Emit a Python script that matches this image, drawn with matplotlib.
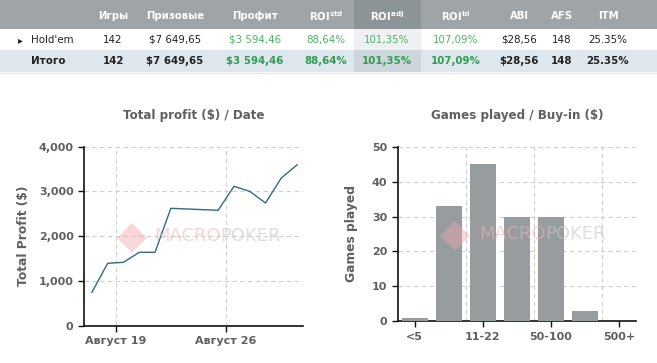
import matplotlib
matplotlib.use("Agg")
import matplotlib.pyplot as plt
import matplotlib.dates as mdates
from matplotlib.patches import Rectangle, Polygon
import datetime as dt

plt.rcParams['font.family'] = ['DejaVu Sans']
plt.rcParams['mathtext.fontset'] = 'custom'
plt.rcParams['mathtext.rm'] = 'DejaVu Sans'
plt.rcParams['mathtext.bf'] = 'DejaVu Sans:bold'

# ---------------- data ----------------
table_headers = ["Игры", "Призовые", "Профит", r"$\mathbf{ROI^{std}}$", r"$\mathbf{ROI^{adj}}$",
                 r"$\mathbf{ROI^{bi}}$", "ABI", "AFS", "ITM"]
row_labels = ["Hold'em", "Итого"]
row_holdem = ["142", "$7 649,65", "$3 594,46", "88,64%", "101,35%", "107,09%", "$28,56", "148", "25.35%"]
row_total = ["142", "$7 649,65", "$3 594,46", "88,64%", "101,35%", "107,09%", "$28,56", "148", "25.35%"]
green_cols = [2, 3, 4, 5]

profit_dates = [dt.datetime(2013, 8, d, 12) for d in (17, 18, 19, 20, 21, 22, 25, 26, 27, 28, 29, 30)]
profit_values = [746, 1394, 1417, 1640, 1640, 2623, 2579, 3115, 3003, 2742, 3301, 3594]
profit_ticks = [dt.datetime(2013, 8, 19), dt.datetime(2013, 8, 26)]
profit_tick_labels = ["Август 19", "Август 26"]

buyin_categories = ["<5", "5-11", "11-22", "22-50", "50-100", "100-500", "500+"]
games_played = [1, 33, 45, 30, 30, 3, 0]

# ---------------- figure ----------------
W, H = 657, 363
fig = plt.figure(figsize=(W / 100, H / 100), dpi=100)
fig.patch.set_facecolor('white')

tab = fig.add_axes([0, 0, 1, 1], zorder=0)
tab.set_xlim(0, W)
tab.set_ylim(H, 0)
tab.axis('off')

head_col = '#9ea4a7'
head_hl = '#8d9498'
row2_col = '#dfe7ee'
row1_hl = '#eef0f1'
row2_hl = '#cdd6dd'
hl_x0, hl_x1 = 354, 421

tab.add_patch(Rectangle((0, 0), W, 29, color=head_col, lw=0))
tab.add_patch(Rectangle((hl_x0, 0), hl_x1 - hl_x0, 29, color=head_hl, lw=0))
tab.add_patch(Rectangle((hl_x0, 29), hl_x1 - hl_x0, 21, color=row1_hl, lw=0))
tab.add_patch(Rectangle((0, 50), W, 22, color=row2_col, lw=0))
tab.add_patch(Rectangle((hl_x0, 50), hl_x1 - hl_x0, 22, color=row2_hl, lw=0))
tab.plot([0, W], [72.5, 72.5], color='#e4e8eb', lw=1)

col_x = [113, 175, 255, 326, 387, 456, 519, 562, 608]
for x, h in zip(col_x, table_headers):
    tab.text(x, 16, h, ha='center', va='center', color='white', fontsize=7.3, fontweight='bold')

green1 = '#4cb564'
green2 = '#2e9e50'
tab.text(20, 40, "▸", ha='center', va='center', color='#222222', fontsize=7)
tab.text(31, 40, row_labels[0], ha='left', va='center', color='#222222', fontsize=7.4)
tab.text(31, 61, row_labels[1], ha='left', va='center', color='#222222', fontsize=7.4, fontweight='bold')
for i, (x, v) in enumerate(zip(col_x, row_holdem)):
    tab.text(x, 40, v, ha='center', va='center', fontsize=7.4,
             color=green1 if i in green_cols else '#222222')
for i, (x, v) in enumerate(zip(col_x, row_total)):
    tab.text(x, 61, v, ha='center', va='center', fontsize=7.4, fontweight='bold',
             color=green2 if i in green_cols else '#222222')

label_col = '#606060'
grid_kw = dict(color='#cfcfcf', linestyle=(0, (4, 3)), linewidth=0.8)


def watermark(ax, cx, cy):
    ax.text(cx, cy, "◆", transform=ax.transAxes, ha='center', va='center',
            fontsize=28, color='#eea7ac', alpha=0.45, zorder=4)
    t = ax.text(cx + 0.10, cy, "MACRO", transform=ax.transAxes, ha='left', va='center',
                fontsize=13, color='#efb3b6', alpha=0.55, zorder=4)
    ax.annotate("POKER", xy=(1.0, 0.5), xycoords=t, ha='left', va='center',
                fontsize=13, color='#c8c8c8', alpha=0.6, zorder=4)


# ---------------- left chart ----------------
ax1 = fig.add_axes([84 / W, 1 - 325.7 / H, 219 / W, 179 / H], zorder=2)
ax1.patch.set_alpha(0)
ax1.plot(profit_dates, profit_values, color='#2e6c85', lw=1.0, zorder=3)
ax1.set_xlim(dt.datetime(2013, 8, 17, 0), dt.datetime(2013, 8, 30, 21))
ax1.set_ylim(0, 4000)
ax1.set_yticks([0, 1000, 2000, 3000, 4000])
ax1.set_yticklabels(['0', '1,000', '2,000', '3,000', '4,000'])
ax1.set_xticks(profit_ticks)
ax1.set_xticklabels(profit_tick_labels)
ax1.grid(True, **grid_kw)
for s in ['top', 'right']:
    ax1.spines[s].set_visible(False)
for s in ['left', 'bottom']:
    ax1.spines[s].set_color('#111111')
    ax1.spines[s].set_linewidth(1.2)
ax1.tick_params(axis='both', colors='#111111', labelcolor=label_col, labelsize=8, length=4, width=1)
for lab in ax1.get_xticklabels() + ax1.get_yticklabels():
    lab.set_fontweight('bold')
ax1.set_ylabel("Total Profit ($)", fontsize=8.8, fontweight='bold', color=label_col, labelpad=6)
ax1.set_title("Total profit ($) / Date", fontsize=8.6, fontweight='bold', color=label_col, pad=20)
watermark(ax1, 0.22, 0.50)

# ---------------- right chart ----------------
ax2 = fig.add_axes([397.7 / W, 1 - 321.3 / H, 238.6 / W, 174.6 / H], zorder=2)
ax2.patch.set_alpha(0)
xpos = list(range(len(buyin_categories)))
ax2.bar(xpos, games_played, width=0.76, color='#979d9f', zorder=3)
ax2.set_xlim(-0.5, len(buyin_categories) - 0.5)
ax2.set_ylim(0, 50)
ax2.set_yticks([0, 10, 20, 30, 40, 50])
ax2.set_xticks(xpos[::2])
ax2.set_xticklabels(buyin_categories[::2])
ax2.set_xticks([1.5, 3.5, 5.5], minor=True)
ax2.grid(True, axis='y', **grid_kw)
ax2.grid(True, axis='x', which='minor', **grid_kw)
ax2.tick_params(axis='x', which='minor', length=0)
for s in ['top', 'right']:
    ax2.spines[s].set_visible(False)
for s in ['left', 'bottom']:
    ax2.spines[s].set_color('#111111')
    ax2.spines[s].set_linewidth(1.2)
ax2.tick_params(axis='both', which='major', colors='#111111', labelcolor=label_col, labelsize=8, length=4, width=1)
for lab in ax2.get_xticklabels() + ax2.get_yticklabels():
    lab.set_fontweight('bold')
ax2.set_ylabel("Games played", fontsize=8.8, fontweight='bold', color=label_col, labelpad=10)
ax2.set_title("Games played / Buy-in ($)", fontsize=8.6, fontweight='bold', color=label_col, pad=20)
watermark(ax2, 0.24, 0.50)

fig.savefig("out.png", dpi=100)
